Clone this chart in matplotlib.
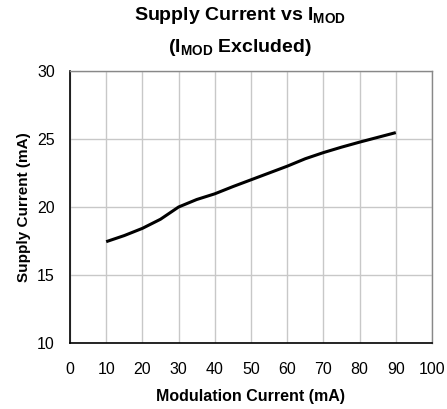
import matplotlib
matplotlib.use("Agg")
import matplotlib.pyplot as plt

x_ma = [10, 15, 20, 25, 30, 35, 40, 45, 50, 55, 60, 65, 70, 75, 80, 85, 90]
supply_ma = [17.45, 17.9, 18.43, 19.1, 20.0, 20.55, 20.97, 21.5, 22.0, 22.5,
             23.0, 23.55, 24.0, 24.4, 24.77, 25.12, 25.47]
x_ticks = [0, 10, 20, 30, 40, 50, 60, 70, 80, 90, 100]
y_ticks = [10, 15, 20, 25, 30]

plt.rcParams['font.family'] = ['Liberation Sans', 'DejaVu Sans']
plt.rcParams['mathtext.fontset'] = 'custom'
plt.rcParams['mathtext.rm'] = 'Liberation Sans:bold'
plt.rcParams['mathtext.bf'] = 'Liberation Sans:bold'
plt.rcParams['mathtext.it'] = 'Liberation Sans:bold'

fig = plt.figure(figsize=(4.47, 4.09), dpi=100)
ax = fig.add_axes([70/447, 66/409, 362/447, 272/409])

ax.plot(x_ma, supply_ma, color='black', lw=2.2, solid_capstyle='butt',
        solid_joinstyle='round')
ax.set_xlim(0, 100)
ax.set_ylim(10, 30)
ax.set_xticks(x_ticks)
ax.set_yticks(y_ticks)
ax.grid(True, color='#c8c8c8', lw=1)
ax.set_axisbelow(True)
ax.tick_params(length=0, labelsize=11.5, pad=14)
ax.tick_params(axis='y', pad=11)
for s in ['left', 'bottom']:
    ax.spines[s].set_color('black')
    ax.spines[s].set_linewidth(1.2)
for s in ['top', 'right']:
    ax.spines[s].set_color('#888888')
    ax.spines[s].set_linewidth(1.0)

ax.set_xlabel('Modulation Current (mA)', fontsize=11.5, fontweight='bold', labelpad=8)
ax.set_ylabel('Supply Current (mA)', fontsize=11, fontweight='bold', labelpad=4)

fig.text(240/447, 1 - 16/409, r'Supply Current vs I$_{\mathrm{MOD}}$', ha='center', va='center',
         fontsize=14, fontweight='bold')
fig.text(240/447, 1 - 48/409, r'(I$_{\mathrm{MOD}}$ Excluded)', ha='center', va='center',
         fontsize=14, fontweight='bold')

fig.savefig('out.png', dpi=100)
